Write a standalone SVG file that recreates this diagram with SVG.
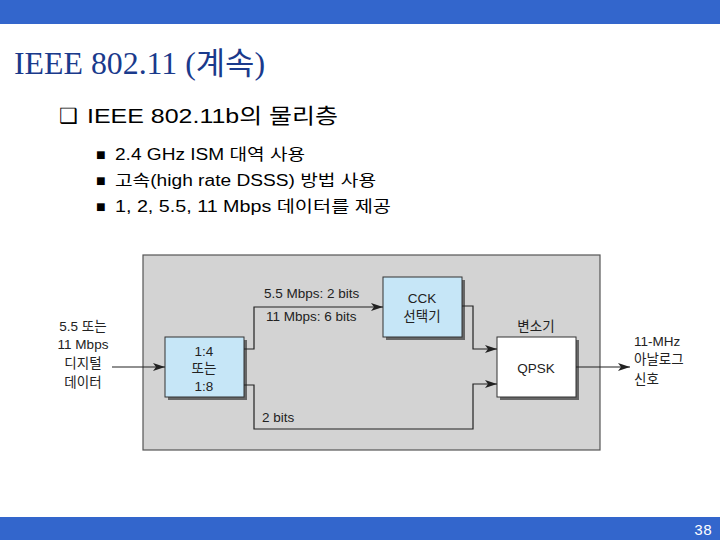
<svg xmlns="http://www.w3.org/2000/svg" width="720" height="540" viewBox="0 0 720 540">
<defs>
<style>
.title{font-family:"Liberation Serif","Noto Sans CJK KR",serif;font-size:31px;fill:#1a3a8c}
.sub{font-family:"Liberation Sans","Noto Sans CJK KR",sans-serif;font-size:21px;fill:#000}
.bul{font-family:"Liberation Sans","Noto Sans CJK KR",sans-serif;font-size:16px;fill:#000}
.lbl{font-family:"Liberation Sans","Noto Sans CJK KR",sans-serif;font-size:13.5px;fill:#222}
.mid{text-anchor:middle}
.box{stroke:#333;stroke-width:1}
.shadow{fill:#666}
.wire{fill:none;stroke:#222;stroke-width:1.2}
</style>
<marker id="ah" viewBox="0 0 12 8" refX="12" refY="4" markerWidth="12" markerHeight="8" markerUnits="userSpaceOnUse" orient="auto">
<path d="M0,0 L12,4 L0,8 L3,4 Z" fill="#222"/>
</marker>
</defs>
<rect width="720" height="540" fill="#fff"/>
<rect x="0" y="0" width="720" height="24" fill="#3366cc"/>
<rect x="0" y="517" width="720" height="23" fill="#3366cc"/>
<text x="694" y="535" font-family="Liberation Mono,monospace" font-size="15" fill="#fff">38</text>

<text class="title" x="14" y="74" textLength="251" lengthAdjust="spacingAndGlyphs">IEEE 802.11 (계속)</text>
<text class="sub" x="59" y="123">❑</text>
<text class="sub" x="87" y="123" textLength="251" lengthAdjust="spacingAndGlyphs">IEEE 802.11b의 물리층</text>
<g class="bul">
<text x="96" y="160">■</text>
<text x="115" y="160" textLength="190" lengthAdjust="spacingAndGlyphs">2.4 GHz ISM 대역 사용</text>
<text x="96" y="186">■</text>
<text x="115" y="186" textLength="261" lengthAdjust="spacingAndGlyphs">고속(high rate DSSS) 방법 사용</text>
<text x="96" y="212">■</text>
<text x="115" y="212" textLength="276" lengthAdjust="spacingAndGlyphs">1, 2, 5.5, 11 Mbps 데이터를 제공</text>
</g>

<rect x="143" y="255" width="457" height="195" fill="#d3d3d3" stroke="#555" stroke-width="1.2"/>

<g id="input-label" class="lbl mid">
<text x="83" y="331">5.5 또는</text>
<text x="83" y="349">11 Mbps</text>
<text x="83" y="368">디지털</text>
<text x="83" y="387">데이터</text>
</g>

<g id="splitter">
<rect class="shadow" x="168" y="340" width="79" height="60"/>
<rect class="box" x="165" y="337" width="79" height="60" fill="#c6e6f7"/>
<text class="lbl mid" x="204" y="356">1:4</text>
<text class="lbl mid" x="204" y="373">또는</text>
<text class="lbl mid" x="204" y="391">1:8</text>
</g>

<g id="cck">
<rect class="shadow" x="386" y="280" width="79" height="60"/>
<rect class="box" x="383" y="277" width="79" height="60" fill="#c6e6f7"/>
<text class="lbl mid" x="422" y="303">CCK</text>
<text class="lbl mid" x="422" y="321">선택기</text>
</g>

<g id="qpsk">
<rect class="shadow" x="500" y="340" width="79" height="60"/>
<rect class="box" x="497" y="337" width="79" height="60" fill="#fff"/>
<text class="lbl mid" x="536" y="373" font-size="14.5">QPSK</text>
<text class="lbl mid" x="536" y="331">변소기</text>
</g>

<g id="output-label" class="lbl">
<text x="634" y="346">11-MHz</text>
<text x="634" y="364">아날로그</text>
<text x="634" y="384">신호</text>
</g>

<g id="connectors">
<path class="wire" d="M112,367 H165" marker-end="url(#ah)"/>
<path class="wire" d="M244,349 H254 V307 H383" marker-end="url(#ah)"/>
<path class="wire" d="M244,385 H254 V429 H473 V384 H497" marker-end="url(#ah)"/>
<path class="wire" d="M462,306 H473 V349 H497" marker-end="url(#ah)"/>
<path class="wire" d="M576,367 H630" marker-end="url(#ah)"/>
</g>
<g class="lbl">
<text x="264" y="298">5.5 Mbps: 2 bits</text>
<text x="266" y="321">11 Mbps: 6 bits</text>
<text x="262" y="422">2 bits</text>
</g>
</svg>
